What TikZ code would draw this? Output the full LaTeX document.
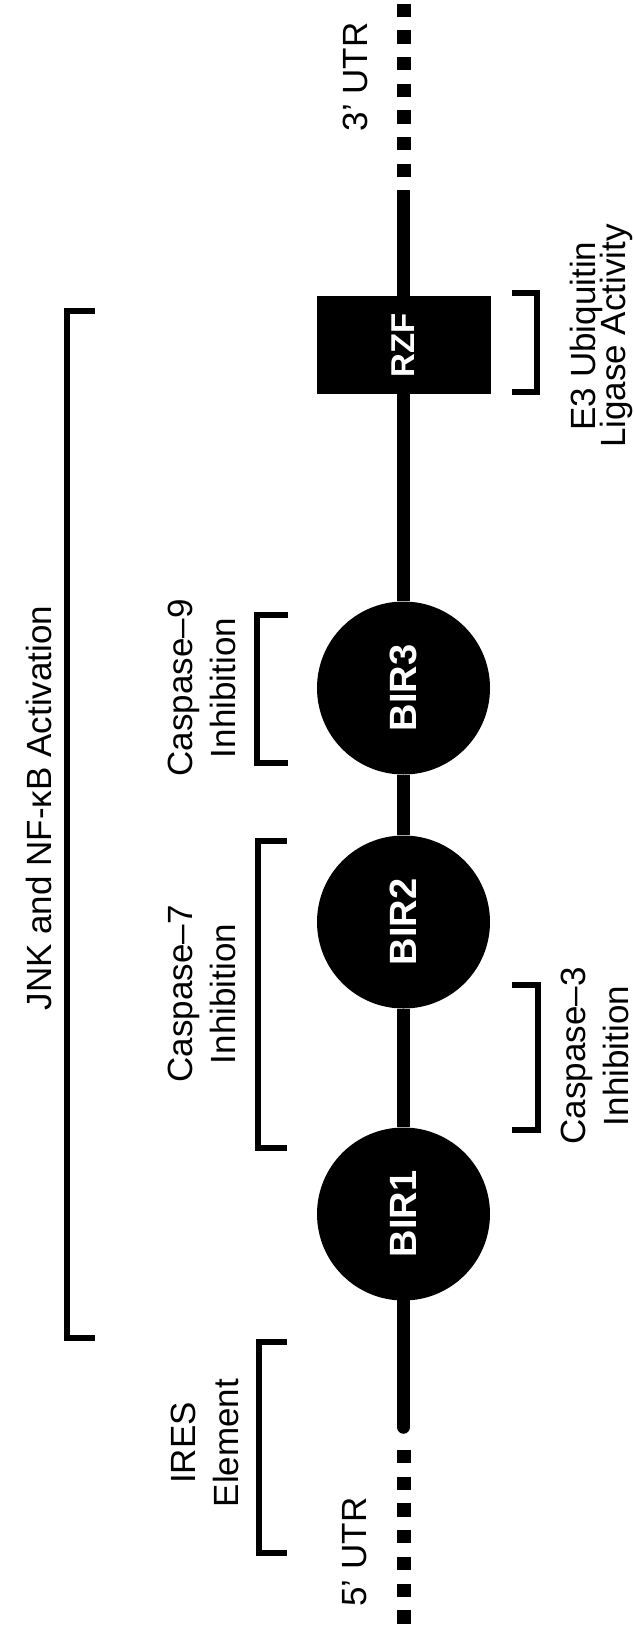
\documentclass[tikz,border=0pt]{standalone}
\usepackage{fontspec}
\setmainfont{Liberation Sans}
\tikzset{
  backbone/.style={line width=13.5pt},
  utr/.style={line width=14pt, dash pattern=on 13.3pt off 13.4pt},
  birdomain/.style={circle, fill=black, minimum size=173pt, inner sep=0pt,
    text=white, font=\bfseries\fontsize{38}{44}\selectfont},
  ringbox/.style={rectangle, fill=black, minimum width=174pt, minimum height=98pt,
    inner sep=0pt, text=white, font=\bfseries\fontsize{33}{40}\selectfont},
  brackline/.style={line width=5.5pt},
  lbl/.style={rotate=90, align=center, inner sep=0pt, font=\fontsize{35}{43}\selectfont},
  tightlbl/.style={lbl, font={\fontsize{35}{30}\selectfont\lineskiplimit=-50pt}},
}
\begin{document}
\begin{tikzpicture}[x=1pt, y=-1pt]
\useasboundingbox (0,0) rectangle (634,1628);

% protein domains along the transcript
\node[ringbox]   (rzf)  at (403.5,345)  {\rotatebox{90}{RZF}};
\node[birdomain] (bir3) at (403.5,688)  {\rotatebox{90}{BIR3}};
\node[birdomain] (bir2) at (403.5,922)  {\rotatebox{90}{BIR2}};
\node[birdomain] (bir1) at (403.5,1214) {\rotatebox{90}{BIR1}};

% ends of the coding region and of the untranslated regions
\coordinate (cdsTop)  at (403.5,190);
\coordinate (cdsBot)  at (403.5,1427);
\coordinate (utr3a)   at (403.5,177);
\coordinate (utr3b)   at (403.5,0);
\coordinate (utr5a)   at (403.5,1450);
\coordinate (utr5b)   at (403.5,1628);

% coding sequence
\draw[backbone] (cdsTop) -- (rzf.north);
\draw[backbone] (rzf.south) -- (bir3.north);
\draw[backbone] (bir3.south) -- (bir2.north);
\draw[backbone] (bir2.south) -- (bir1.north);
\draw[backbone, line cap=round] (bir1.south) -- (cdsBot);

% untranslated regions
\draw[utr] (utr3a) -- (utr3b);
\draw[utr] (utr5a) -- (utr5b);

% functional brackets
\draw[brackline] (95,311) -| (67,1338) -- (95,1338);
\draw[brackline] (287,1342) -| (259,1553) -- (287,1553);
\draw[brackline] (287,841) -| (258,1148) -- (287,1148);
\draw[brackline] (288,615) -| (257,763) -- (288,763);
\draw[brackline] (512,985) -| (538,1130) -- (512,1130);
\draw[brackline] (512,293) -| (537,392) -- (512,392);

% labels
\node[lbl] (jnk)   at (39,808)     {JNK and NF-κB Activation};
\node[lbl] (ires)  at (204.5,1443) {IRES\\Element};
\node[lbl] (casp7) at (202,994)    {Caspase–7\\Inhibition};
\node[lbl] (casp9) at (201.5,688)  {Caspase–9\\Inhibition};
\node[lbl] (casp3) at (594.5,1056) {Caspase–3\\Inhibition};
\node[tightlbl] (e3) at (601,336)  {E3 Ubiquitin\\Ligase Activity};
\node[lbl] (utr3l) at (355,77)     {3’ UTR};
\node[lbl] (utr5l) at (355,1552)   {5’ UTR};
\end{tikzpicture}
\end{document}
